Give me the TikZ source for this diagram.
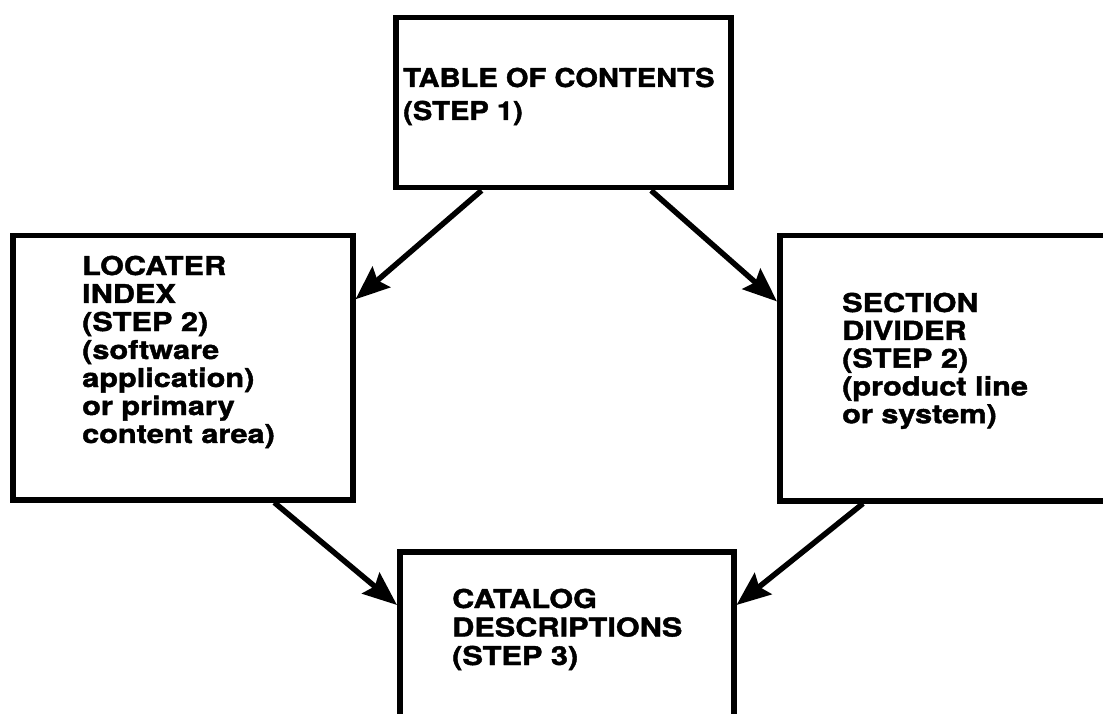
\documentclass[tikz,border=0pt]{standalone}
\usepackage{fontspec}
\newfontfamily\topfont{TeX Gyre Heros}[FakeStretch=1.12,BoldFeatures={FakeBold=1.6}]
\newfontfamily\lowfont{TeX Gyre Heros}[FakeStretch=1.18,BoldFeatures={FakeBold=1.6}]
\usetikzlibrary{arrows.meta,calc}
\tikzset{
  box/.style={draw, line width=5.5pt, rectangle, inner sep=0pt, anchor=north west},
  txt/.style={anchor=base west, inner sep=0pt},
  conn/.style={line width=5.5pt, -{Stealth[length=34pt,width=27pt,inset=5pt]}}
}
\newcommand{\mylines}[4]{\parbox[t]{400pt}{\raggedright#1\bfseries\fontsize{#2}{#3}\selectfont #4}}
\begin{document}
\begin{tikzpicture}[x=1pt,y=-1pt]
\useasboundingbox (0,0) rectangle (1103,714);
\node[box, minimum width=335pt, minimum height=170pt] (top) at (393,15) {};
\node[box, minimum width=340pt, minimum height=264pt] (left) at (10,233) {};
\node[box, minimum width=420pt, minimum height=265pt] (right) at (777,233) {};
\node[box, minimum width=334pt, minimum height=260pt] (bot) at (397,549) {};
\node[txt] (ttop) at (403,87) {\mylines{\topfont}{26}{33}{TABLE OF CONTENTS\\(STEP 1)}};
\node[txt] (tleft) at (82,275) {\mylines{\lowfont}{26}{28}{LOCATER\\INDEX\\(STEP 2)\\(software\\application)\\or primary\\content area)}};
\node[txt] (tright) at (842,312) {\mylines{\lowfont}{26}{27.8}{SECTION\\DIVIDER\\(STEP 2)\\(product line\\or system)}};
\node[txt] (tbot) at (452,608) {\mylines{\lowfont}{26}{28.5}{CATALOG\\DESCRIPTIONS\\(STEP 3)}};
\draw[conn] ($(top.south west)!0.26!(top.south east)$) -- ($(left.north east)!0.246!(left.south east)$);
\draw[conn] ($(top.south west)!0.758!(top.south east)$) -- ($(right.north west)!0.253!(right.south west)$);
\draw[conn] ($(left.south west)!0.765!(left.south east)$) -- ($(bot.north west)+(0,56)$);
\draw[conn] ($(right.south west)+(86,0)$) -- ($(bot.north east)+(0,56)$);
\end{tikzpicture}
\end{document}
